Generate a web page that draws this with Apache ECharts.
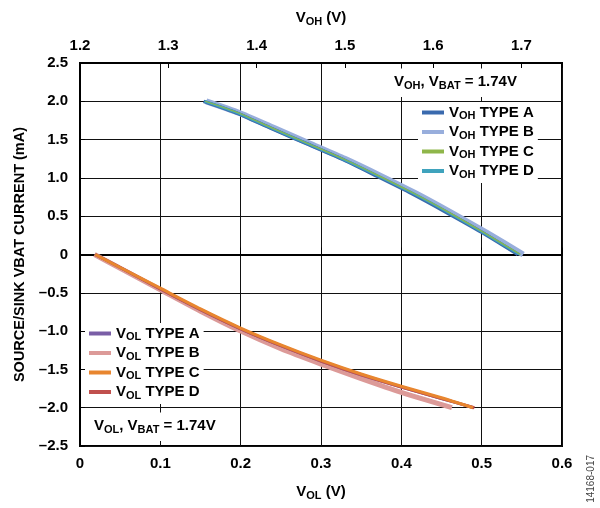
<!DOCTYPE html>
<html>
<head>
<meta charset="utf-8">
<script src="https://cdn.jsdelivr.net/npm/echarts@6/dist/echarts.min.js"></script>
<style>html,body{margin:0;padding:0;background:#fff}#c{width:600px;height:508px}</style>
</head>
<body>
<div id="c"></div>
<script>
// ---- data ----
const volTicks = [0, 0.1, 0.2, 0.3, 0.4, 0.5, 0.6];
const vohTicks = [1.2, 1.3, 1.4, 1.5, 1.6, 1.7];
const currentTicks = [-2.5, -2.0, -1.5, -1.0, -0.5, 0, 0.5, 1.0, 1.5, 2.0, 2.5];

// V_OH (top axis, V) vs current (mA)
const vohTypeA = [[1.340,2.00],[1.377,1.85],[1.416,1.65],[1.456,1.45],[1.496,1.25],[1.535,1.03],[1.575,0.80],[1.615,0.55],[1.655,0.29],[1.696,0.00]];
const vohTypeB = [[1.343,2.00],[1.380,1.85],[1.420,1.65],[1.460,1.45],[1.500,1.25],[1.540,1.03],[1.580,0.80],[1.620,0.55],[1.660,0.29],[1.702,0.00]];
const vohTypeC = [[1.342,2.00],[1.379,1.85],[1.418,1.65],[1.458,1.45],[1.498,1.25],[1.538,1.03],[1.578,0.80],[1.618,0.55],[1.657,0.29],[1.699,0.00]];
const vohTypeD = [[1.341,2.00],[1.378,1.85],[1.417,1.65],[1.457,1.45],[1.497,1.25],[1.537,1.03],[1.577,0.80],[1.617,0.55],[1.656,0.29],[1.698,0.00]];

// V_OL (bottom axis, V) vs current (mA)
const volTypeA = [[0.019,0.00],[0.05,-0.17],[0.10,-0.45],[0.15,-0.72],[0.20,-0.97],[0.25,-1.19],[0.30,-1.39],[0.35,-1.57],[0.40,-1.73],[0.45,-1.88],[0.490,-2.00]];
const volTypeB = [[0.018,0.00],[0.05,-0.18],[0.10,-0.46],[0.15,-0.74],[0.20,-1.00],[0.25,-1.23],[0.30,-1.43],[0.35,-1.62],[0.40,-1.80],[0.463,-2.00]];
const volTypeC = [[0.019,0.00],[0.05,-0.17],[0.10,-0.44],[0.15,-0.71],[0.20,-0.96],[0.25,-1.18],[0.30,-1.38],[0.35,-1.56],[0.40,-1.72],[0.45,-1.87],[0.489,-2.00]];
const volTypeD = [[0.019,0.00],[0.05,-0.17],[0.10,-0.45],[0.15,-0.72],[0.20,-0.97],[0.25,-1.19],[0.30,-1.39],[0.35,-1.57],[0.40,-1.73],[0.45,-1.88],[0.491,-2.00]];

const seriesNames = ['VOH TYPE A','VOH TYPE B','VOH TYPE C','VOH TYPE D','VOL TYPE A','VOL TYPE B','VOL TYPE C','VOL TYPE D'];

// ---- styling ----
const FONT = 'Liberation Sans, Arial, Helvetica, sans-serif';
const rich = {
  n: {fontSize: 15, fontWeight: 'bold', fontFamily: FONT, color: '#000', lineHeight: 18},
  s: {fontSize: 11, fontWeight: 'bold', fontFamily: FONT, color: '#000', lineHeight: 10, verticalAlign: 'bottom'}
};
function sub(main, s, rest) { return '{n|' + main + '}{s|' + s + '}{n|' + rest + '}'; }
const colors = {
  'VOH TYPE A': '#3a6aae', 'VOH TYPE B': '#98aedc', 'VOH TYPE C': '#8fb64a', 'VOH TYPE D': '#3fa3bd',
  'VOL TYPE A': '#7a5ea6', 'VOL TYPE B': '#dc9a98', 'VOL TYPE C': '#e8862f', 'VOL TYPE D': '#c0504d'
};
function fmtY(v) {
  if (Math.abs(v) < 1e-9) return '0';
  return (v < 0 ? '\u2013' : '') + Math.abs(v).toFixed(1);
}
function line(name, data, xi, width) {
  return {name: name, type: 'line', xAxisIndex: xi, yAxisIndex: 0, data: data, showSymbol: false, symbol: 'none',
    smooth: 0.2, lineStyle: {color: colors[name], width: width}, itemStyle: {color: colors[name]}, silent: true, animation: false};
}
const legendCommon = {
  orient: 'vertical', icon: 'rect', itemWidth: 22, itemHeight: 4, itemGap: 3,
  backgroundColor: '#fff', selectedMode: false,
  textStyle: {rich: rich, fontFamily: FONT},
  formatter: function (name) { return sub('V', name.slice(1, 3), ' ' + name.slice(4)); }
};
const tickLabel = {fontSize: 15, fontWeight: 'bold', fontFamily: FONT, color: '#000'};

const chart = echarts.init(document.getElementById('c'), null, {renderer: 'canvas'});
chart.setOption({
  animation: false,
  backgroundColor: '#fff',
  grid: {left: 80, top: 63, width: 482, height: 383, show: true, borderColor: '#000', borderWidth: 2, backgroundColor: 'transparent'},
  xAxis: [{
    type: 'value', position: 'bottom', min: volTicks[0], max: volTicks[volTicks.length - 1], interval: 0.1,
    axisLine: {show: true, lineStyle: {color: '#000', width: 2}},
    axisTick: {show: true, inside: true, length: 7, lineStyle: {color: '#000', width: 1}},
    splitLine: {show: true, lineStyle: {color: '#111', width: 1}},
    axisLabel: Object.assign({margin: 10, formatter: function (v) { return Math.abs(v) < 1e-9 ? '0' : v.toFixed(1); }}, tickLabel),
    name: sub('V', 'OL', ' (V)'), nameLocation: 'middle', nameGap: 37,
    nameTextStyle: {rich: rich}
  }, {
    type: 'value', position: 'top', min: vohTicks[0], max: 1.746, interval: 0.1,
    axisLine: {show: true, lineStyle: {color: '#000', width: 2}},
    axisTick: {show: true, inside: true, length: 5, lineStyle: {color: '#000', width: 1}},
    splitLine: {show: false},
    axisLabel: Object.assign({margin: 10, formatter: function (v) { const r = Math.round(v * 10); return Math.abs(v * 10 - r) < 1e-6 && r <= 17 ? (r / 10).toFixed(1) : ''; }}, tickLabel),
    name: sub('V', 'OH', ' (V)'), nameLocation: 'middle', nameGap: 36,
    nameTextStyle: {rich: rich}
  }],
  yAxis: [{
    type: 'value', min: currentTicks[0], max: currentTicks[currentTicks.length - 1], interval: 0.5,
    axisLine: {show: true, lineStyle: {color: '#000', width: 2}},
    axisTick: {show: true, inside: true, length: 5, lineStyle: {color: '#000', width: 1}},
    splitLine: {show: true, lineStyle: {color: '#111', width: 1}},
    axisLabel: Object.assign({margin: 12, formatter: fmtY}, tickLabel),
    name: 'SOURCE/SINK VBAT CURRENT (mA)', nameLocation: 'middle', nameGap: 53,
    nameTextStyle: {fontSize: 14.5, fontWeight: 'bold', fontFamily: FONT, color: '#000'}
  }],
  title: [{
    text: sub('V', 'OH', ', V') + '{s|BAT}{n| = 1.74V}',
    left: 388, top: 67, padding: [6, 6, 6, 6], backgroundColor: '#fff',
    textStyle: {rich: rich}
  }, {
    text: sub('V', 'OL', ', V') + '{s|BAT}{n| = 1.74V}',
    left: 88, top: 411, padding: [6, 6, 6, 6], backgroundColor: '#fff',
    textStyle: {rich: rich}
  }],
  legend: [
    Object.assign({}, legendCommon, {data: seriesNames.slice(0, 4), left: 418, top: 102, padding: [3, 4, 3, 4]}),
    Object.assign({}, legendCommon, {data: seriesNames.slice(4, 8), left: 85, top: 323, padding: [3, 4, 3, 4]})
  ],
  graphic: [{
    type: 'text', left: 586, top: 455, rotation: Math.PI / 2,
    style: {text: '14168-017', fontSize: 10, fontFamily: FONT, fill: '#444'}
  }],
  series: [
    line('VOH TYPE B', vohTypeB, 1, 6),
    line('VOH TYPE A', vohTypeA, 1, 3.5),
    line('VOH TYPE D', vohTypeD, 1, 2.5),
    line('VOH TYPE C', vohTypeC, 1, 1.2),
    line('VOL TYPE B', volTypeB, 0, 5),
    line('VOL TYPE A', volTypeA, 0, 3),
    line('VOL TYPE D', volTypeD, 0, 3),
    line('VOL TYPE C', volTypeC, 0, 3)
  ]
});
</script>
</body>
</html>
